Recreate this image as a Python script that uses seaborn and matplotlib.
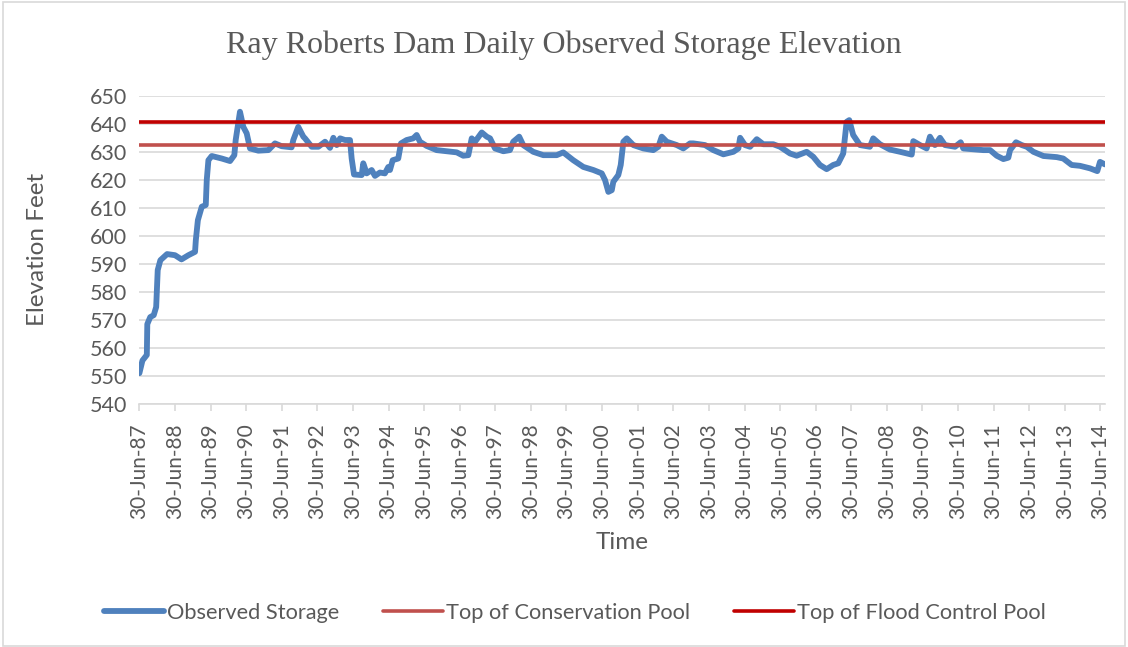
import matplotlib
matplotlib.use("Agg")
import matplotlib.pyplot as plt
import matplotlib.dates as mdates
from matplotlib.patches import Rectangle
import pandas as pd
import seaborn as sns

# Daily observed storage elevation (ft), sampled at the turning points of the record
dates = [
    "1987-07-01", "1987-08-01", "1987-09-15", "1987-09-20", "1987-10-20", "1987-11-25",
    "1987-12-20", "1988-01-05", "1988-02-01", "1988-04-10", "1988-06-30", "1988-09-05",
    "1988-11-15", "1989-01-22", "1989-01-30", "1989-02-20", "1989-04-01", "1989-05-12",
    "1989-05-22", "1989-06-08", "1989-07-12", "1989-10-23", "1990-01-16", "1990-03-01",
    "1990-03-15", "1990-04-28", "1990-06-01", "1990-07-06", "1990-08-09", "1990-11-02",
    "1991-02-13", "1991-04-22", "1991-06-30", "1991-10-10", "1991-10-27", "1991-12-17",
    "1992-02-07", "1992-02-24", "1992-05-03", "1992-07-10", "1992-09-17", "1992-11-07",
    "1992-12-11", "1993-01-15", "1993-02-18", "1993-04-10", "1993-05-31", "1993-06-17",
    "1993-07-11", "1993-09-28", "1993-10-14", "1993-11-18", "1994-01-08", "1994-02-11",
    "1994-04-03", "1994-05-24", "1994-06-28", "1994-07-15", "1994-08-12", "1994-10-08",
    "1994-11-05", "1995-01-02", "1995-03-11", "1995-04-15", "1995-05-19", "1995-07-26",
    "1995-11-06", "1996-02-17", "1996-05-30", "1996-08-05", "1996-09-26", "1996-10-31",
    "1996-12-04", "1997-02-11", "1997-04-03", "1997-05-07", "1997-06-27", "1997-09-20",
    "1997-11-27", "1997-12-31", "1998-03-02", "1998-04-12", "1998-07-24", "1998-11-04",
    "1999-03-22", "1999-05-28", "1999-09-08", "1999-12-20", "2000-04-01", "2000-06-26",
    "2000-07-30", "2000-09-02", "2000-10-07", "2000-10-23", "2000-12-13", "2001-01-07",
    "2001-02-03", "2001-03-10", "2001-05-16", "2001-08-27", "2001-12-07", "2002-01-28",
    "2002-03-04", "2002-04-24", "2002-08-05", "2002-10-11", "2002-12-19", "2003-01-22",
    "2003-05-22", "2003-08-15", "2003-11-26", "2004-03-08", "2004-04-28", "2004-05-16",
    "2004-07-05", "2004-08-26", "2004-11-03", "2005-01-09", "2005-04-21", "2005-06-29",
    "2005-10-10", "2005-12-17", "2006-03-30", "2006-06-06", "2006-08-13", "2006-10-21",
    "2006-12-27", "2007-02-17", "2007-04-09", "2007-05-14", "2007-06-10", "2007-07-20",
    "2007-09-28", "2008-01-08", "2008-02-11", "2008-04-20", "2008-08-01", "2008-11-12",
    "2009-03-12", "2009-03-28", "2009-06-05", "2009-08-12", "2009-09-15", "2009-11-05",
    "2009-12-27", "2010-02-16", "2010-05-30", "2010-07-27", "2010-08-23", "2010-10-31",
    "2011-03-17", "2011-05-25", "2011-08-01", "2011-10-08", "2011-11-28", "2011-12-16",
    "2012-02-15", "2012-04-14", "2012-06-04", "2012-08-11", "2012-11-22", "2013-04-08",
    "2013-06-14", "2013-09-08", "2013-12-02", "2014-03-15", "2014-05-29", "2014-06-26",
    "2014-08-16",
]
elevation = [
    551.0, 555.5, 557.5, 568.5, 571.0, 571.7,
    574.6, 587.8, 591.3, 593.5, 593.1, 591.6,
    593.1, 594.3, 598.5, 605.6, 610.4, 611.0,
    619.9, 627.0, 628.5, 627.6, 626.7, 628.8,
    634.2, 644.3, 638.9, 636.6, 631.2, 630.4,
    630.6, 633.0, 632.0, 631.6, 634.2, 638.9,
    635.4, 634.8, 631.8, 631.8, 633.6, 631.4,
    635.0, 632.4, 634.8, 634.2, 634.2, 627.6,
    621.9, 621.7, 625.9, 622.3, 623.5, 621.4,
    622.6, 622.3, 624.6, 623.5, 627.0, 627.6,
    633.0, 634.2, 634.8, 636.0, 633.6, 632.1,
    630.6, 630.2, 629.8, 628.6, 628.8, 634.8,
    633.6, 636.9, 635.4, 634.8, 631.2, 630.2,
    630.6, 633.6, 635.4, 632.4, 630.0, 628.8,
    628.8, 629.8, 627.0, 624.6, 623.5, 622.3,
    619.9, 615.7, 616.3, 619.3, 621.7, 625.3,
    633.6, 634.8, 632.4, 631.2, 630.6, 631.8,
    635.4, 633.6, 632.4, 631.2, 633.0, 633.0,
    632.4, 630.6, 629.1, 630.0, 631.2, 635.0,
    632.4, 631.8, 634.5, 632.7, 632.7, 631.8,
    629.4, 628.6, 630.0, 628.2, 625.3, 623.8,
    625.3, 625.9, 629.4, 640.7, 641.3, 636.0,
    632.4, 631.8, 634.8, 632.7, 630.8, 630.0,
    629.0, 633.8, 632.4, 631.2, 635.4, 632.4,
    635.0, 632.4, 631.8, 633.4, 631.2, 631.0,
    630.6, 630.6, 628.6, 627.4, 627.9, 630.6,
    633.4, 632.4, 631.8, 630.0, 628.5, 628.1,
    627.6, 625.3, 625.0, 624.1, 623.1, 626.4,
    625.5,
]

# Reservoir pool levels (ft)
conservation_pool = 632.5
flood_control_pool = 640.5

series_names = ["Observed Storage", "Top of Conservation Pool", "Top of Flood Control Pool"]
series_colors = ["#4F81BD", "#C0504D", "#C00000"]

df = pd.DataFrame({"Date": pd.to_datetime(dates), "Elevation": elevation})

sns.set_theme(style="white")
plt.rcParams["font.family"] = ["Lato", "DejaVu Sans"]

text_gray = "#595959"
grid_gray = "#D9D9D9"

fig = plt.figure(figsize=(11.28, 6.47), dpi=100)
ax = fig.add_axes([0.1235, 0.3756, 0.8561, 0.4764])

sns.lineplot(data=df, x="Date", y="Elevation", ax=ax, color=series_colors[0],
             linewidth=4.2, label=series_names[0], zorder=3,
             solid_capstyle="round", solid_joinstyle="round")
ax.axhline(conservation_pool, color=series_colors[1], linewidth=2.6,
           label=series_names[1], zorder=4)
ax.axhline(flood_control_pool, color=series_colors[2], linewidth=2.6,
           label=series_names[2], zorder=5)

# Axes limits and ticks
ax.set_ylim(540, 650)
ax.set_yticks(range(540, 651, 10))
ax.set_xlim(pd.Timestamp("1987-06-30"), pd.Timestamp("2014-08-16"))
tick_dates = pd.date_range("1987-06-30", "2014-06-30", freq=pd.DateOffset(years=1))
ax.set_xticks(tick_dates)
ax.xaxis.set_major_formatter(mdates.DateFormatter("%d-%b-%y"))

ax.grid(axis="y", color=grid_gray, linewidth=1.2)
ax.grid(axis="x", visible=False)
for side in ["left", "right", "top"]:
    ax.spines[side].set_visible(False)
ax.spines["bottom"].set_color(grid_gray)
ax.spines["bottom"].set_linewidth(1.2)
ax.spines["bottom"].set_zorder(1)

ax.tick_params(axis="x", which="major", bottom=True, direction="out", length=5,
               width=1.2, color=grid_gray, labelrotation=90, labelsize=15,
               labelcolor=text_gray, pad=9)
ax.tick_params(axis="y", left=False, labelsize=15.5, labelcolor=text_gray, pad=3)

ax.set_xlabel("Time", fontsize=17.5, color=text_gray, labelpad=9)
ax.set_ylabel("Elevation Feet", fontsize=17.5, color=text_gray, labelpad=30)

fig.text(0.5, 1 - 45 / 647, "Ray Roberts Dam Daily Observed Storage Elevation",
         family="Liberation Serif", fontsize=23, color=text_gray,
         ha="center", va="center")

ax.get_legend().remove()
handles, labels = ax.get_legend_handles_labels()
fig.legend(handles, labels, loc="center", bbox_to_anchor=(0.5095, 1 - 613 / 647), ncol=3,
           frameon=False, fontsize=15.7, handlelength=2.75, handletextpad=0.15,
           columnspacing=2.0, labelcolor=text_gray)

# Chart-area border
fig.patches.append(Rectangle((0.003, 0.002), 0.994, 0.995, transform=fig.transFigure,
                             fill=False, edgecolor=grid_gray, linewidth=1.2))

fig.savefig("out.png", dpi=100)
